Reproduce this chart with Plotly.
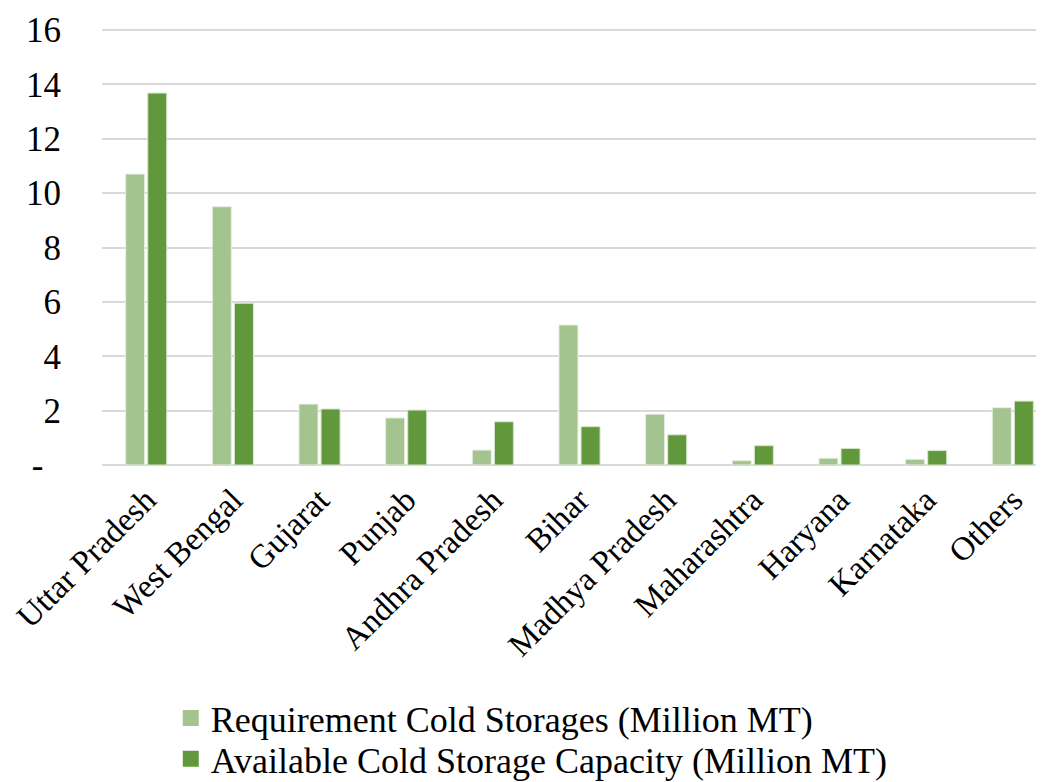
import plotly.graph_objects as go

states = ["Uttar Pradesh", "West Bengal", "Gujarat", "Punjab", "Andhra Pradesh", "Bihar",
          "Madhya Pradesh", "Maharashtra", "Haryana", "Karnataka", "Others"]
requirement = [10.7, 9.5, 2.24, 1.73, 0.55, 5.15, 1.87, 0.16, 0.25, 0.21, 2.11]
available = [13.68, 5.95, 2.06, 2.02, 1.59, 1.41, 1.11, 0.71, 0.61, 0.53, 2.35]
series_names = ["Requirement Cold Storages (Million MT)",
                "Available Cold Storage Capacity (Million MT)"]
y_ticks = [0, 2, 4, 6, 8, 10, 12, 14, 16]
y_tick_labels = ["-\u00a0\u00a0", "2", "4", "6", "8", "10", "12", "14", "16"]

font = "Liberation Serif, Times New Roman, serif"
colors = ["#a3c48f", "#62983c"]
edges = ["#e6efe0", "#d8e6cf"]
legend_ids = ["legend", "legend2"]

fig = go.Figure()
for name, vals, c, e in zip(series_names, [requirement, available], colors, edges):
    fig.add_trace(go.Bar(x=states, y=vals, name=name, showlegend=False, legendgroup=name,
                         marker=dict(color=c, line=dict(color=e, width=1))))
# legend entries with larger square swatches
for name, c, lg in zip(series_names, colors, legend_ids):
    fig.add_trace(go.Scatter(x=[None], y=[None], mode="markers", name=name, legendgroup=name,
                             legend=lg,
                             marker=dict(symbol="square", size=18, color=c,
                                         line=dict(width=0))))

legend_common = dict(orientation="v", x=0.073, xanchor="left", yanchor="middle",
                     font=dict(family=font, size=36), itemwidth=30, bgcolor="rgba(0,0,0,0)")

fig.update_layout(
    width=1036, height=774,
    margin=dict(l=94, r=0, t=19, b=317, autoexpand=False),
    paper_bgcolor="white", plot_bgcolor="white",
    barmode="group", bargap=0.49, bargroupgap=0.14,
    font=dict(family=font, size=34, color="#000000"),
    showlegend=True,
    legend=dict(y=-0.578, **legend_common),
    legend2=dict(y=-0.671, **legend_common),
)
fig.update_xaxes(tickangle=-45, tickfont=dict(family=font, size=33), showgrid=False,
                 showline=False, ticks="", automargin=False, range=[-0.51, 10.36],
                 ticklabelstandoff=8)
fig.update_yaxes(range=[0, 16.11], tickvals=y_ticks, ticktext=y_tick_labels,
                 tickfont=dict(family=font, size=35), showgrid=True, gridcolor="#d9d9d9",
                 gridwidth=1.5, zeroline=True, zerolinecolor="#d9d9d9", zerolinewidth=1.5,
                 showline=False, ticks="", ticklabelstandoff=40, automargin=False)

fig.write_html("out.html")
